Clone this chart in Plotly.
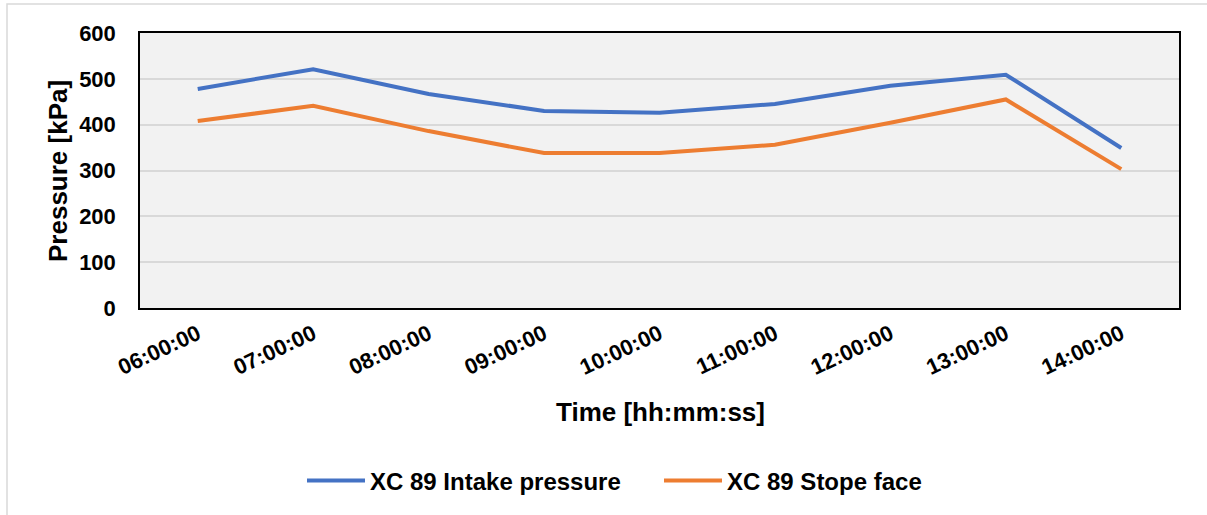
import plotly.graph_objects as go

times = ["06:00:00", "07:00:00", "08:00:00", "09:00:00", "10:00:00",
         "11:00:00", "12:00:00", "13:00:00", "14:00:00"]
intake = [478, 521, 467, 430, 426, 445, 485, 509, 349]
stope = [408, 441, 386, 338, 338, 356, 404, 455, 303]

font_family = "Liberation Sans, Arial, sans-serif"

fig = go.Figure()
fig.add_trace(go.Scatter(x=times, y=intake, mode="lines", name="XC 89 Intake pressure",
                         line=dict(color="#4472C4", width=4)))
fig.add_trace(go.Scatter(x=times, y=stope, mode="lines", name="XC 89 Stope face",
                         line=dict(color="#ED7D31", width=4)))

fig.update_layout(
    width=1207, height=515,
    margin=dict(l=140, r=28, t=33, b=207),
    paper_bgcolor="white",
    plot_bgcolor="#F2F2F2",
    font=dict(family=font_family, color="black"),
    showlegend=True,
    legend=dict(orientation="h", x=(302 - 140) / 1039, xanchor="left",
                y=(308 - 481) / 275, yanchor="middle",
                font=dict(size=24, family=font_family, weight="bold"),
                itemwidth=58, entrywidth=284, entrywidthmode="pixels",
                tracegroupgap=0, bgcolor="rgba(0,0,0,0)"),
)

fig.update_xaxes(
    type="category", range=[-0.5, 8.5],
    showgrid=False, showline=True, linecolor="black", linewidth=1.5, mirror=True,
    tickangle=-25, tickfont=dict(size=22, family=font_family, weight="bold"),
    ticks="", ticklabelstandoff=3,
)
fig.update_yaxes(
    range=[0, 600], dtick=100,
    showgrid=True, gridcolor="#D9D9D9", gridwidth=1.5,
    showline=True, linecolor="black", linewidth=1.5, mirror=True,
    tickfont=dict(size=22, family=font_family, weight="bold"),
    ticks="", ticklabelstandoff=18, zeroline=False,
)

fig.add_annotation(text="Time [hh:mm:ss]", xref="paper", yref="paper",
                   x=(660 - 140) / 1039, y=(308 - 412) / 275, showarrow=False,
                   xanchor="center", yanchor="middle",
                   font=dict(size=26, family=font_family, weight="bold", color="black"))
fig.add_annotation(text="Pressure [kPa]", xref="paper", yref="paper",
                   x=(58 - 140) / 1039, y=(308 - 171) / 275, showarrow=False,
                   textangle=-90, xanchor="center", yanchor="middle",
                   font=dict(size=26, family=font_family, weight="bold", color="black"))

fig.add_shape(type="rect", xref="paper", yref="paper",
              x0=(7 - 140) / 1039, x1=(1215 - 140) / 1039,
              y0=(308 - 520) / 275, y1=(308 - 4) / 275,
              line=dict(color="#D9D9D9", width=1.5), fillcolor="rgba(0,0,0,0)", layer="below")

fig.write_html("out.html")
